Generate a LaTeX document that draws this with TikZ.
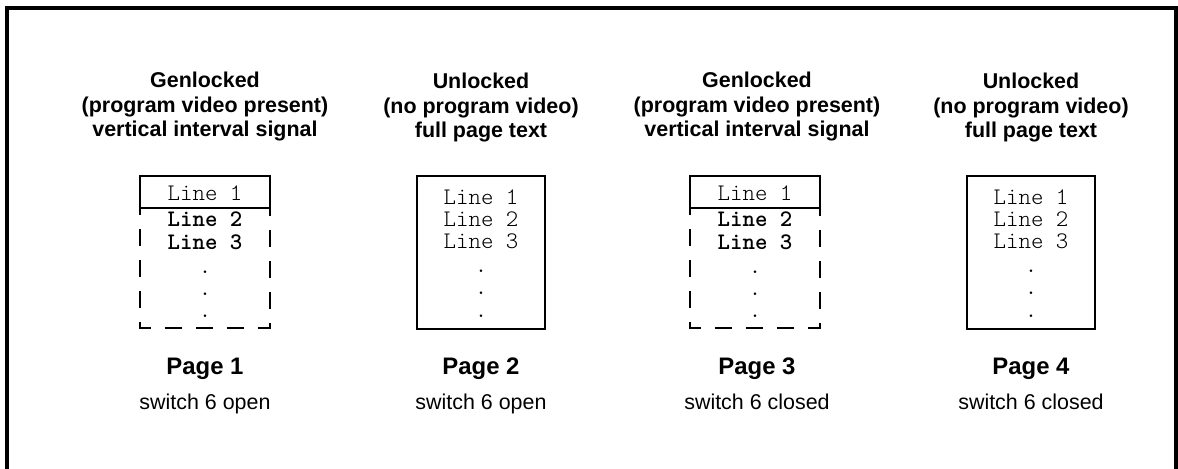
\documentclass[tikz,border=0pt]{standalone}
\usepackage{fontspec}
\setmainfont{Liberation Sans}
\setmonofont{Latin Modern Mono Light}
\usetikzlibrary{positioning}
\tikzset{
    heading/.style={align=center,inner sep=0pt,anchor=base,font=\bfseries\fontsize{12.2}{14.2}\selectfont},
    pagename/.style={inner sep=0pt,anchor=base,font=\bfseries\fontsize{13.6}{16}\selectfont},
    switchname/.style={inner sep=0pt,anchor=base,font=\fontsize{12.2}{14}\selectfont},
    textline/.style={inner sep=0pt,anchor=base,font=\ttfamily\fontsize{13.5}{14}\selectfont},
    boldline/.style={inner sep=0pt,anchor=base,font=\ttfamily\bfseries\fontsize{13.5}{14}\selectfont},
    pagebox/.style={draw=black,line width=1.3pt},
    vibox/.style={draw=black,line width=1.3pt,dash pattern=on 0.34cm off 0.28cm,dash phase=0.2cm}
}

\begin{document}
\begin{tikzpicture}[x=0.02cm,y=-0.02cm]
    \useasboundingbox (0,0) rectangle (1178,469);
    \draw[line width=2.2pt] (7,469) -- (7,8) -- (1176,8) -- (1176,469);

    % headings
    \node[heading] (H_1) at (205,137) {Genlocked\\(program video present)\\vertical interval signal};
    \node[heading] (H_2) at (481,138) {Unlocked\\(no program video)\\full page text};
    \node[heading] (H_3) at (757,137) {Genlocked\\(program video present)\\vertical interval signal};
    \node[heading] (H_4) at (1031,138) {Unlocked\\(no program video)\\full page text};

    % page 1
    \draw[pagebox] (140,176) rectangle (270,208);
    \draw[vibox] (140,208) -- (140,328) -- (270,328) -- (270,208);
    \node[textline] (L1_1) at (205,201) {Line 1};
    \node[boldline] (L1_2) at (205,227) {Line 2};
    \node[boldline] (L1_3) at (205,250) {Line 3};
    \node[textline] (D1_1) at (205,274) {.};
    \node[textline] (D1_2) at (205,296) {.};
    \node[textline] (D1_3) at (205,318) {.};

    % page 2
    \draw[pagebox] (417,176) rectangle (545,329);
    \node[textline] (L2_1) at (481,205) {Line 1};
    \node[textline] (L2_2) at (481,227) {Line 2};
    \node[textline] (L2_3) at (481,249) {Line 3};
    \node[textline] (D2_1) at (481,273) {.};
    \node[textline] (D2_2) at (481,295) {.};
    \node[textline] (D2_3) at (481,318) {.};

    % page 3
    \draw[pagebox] (690,176) rectangle (820,208);
    \draw[vibox] (690,208) -- (690,328) -- (820,328) -- (820,208);
    \node[textline] (L3_1) at (755,201) {Line 1};
    \node[boldline] (L3_2) at (755,227) {Line 2};
    \node[boldline] (L3_3) at (755,250) {Line 3};
    \node[textline] (D3_1) at (755,274) {.};
    \node[textline] (D3_2) at (755,296) {.};
    \node[textline] (D3_3) at (755,318) {.};

    % page 4
    \draw[pagebox] (967,176) rectangle (1095,329);
    \node[textline] (L4_1) at (1031,205) {Line 1};
    \node[textline] (L4_2) at (1031,227) {Line 2};
    \node[textline] (L4_3) at (1031,249) {Line 3};
    \node[textline] (D4_1) at (1031,273) {.};
    \node[textline] (D4_2) at (1031,295) {.};
    \node[textline] (D4_3) at (1031,318) {.};

    % labels
    \node[pagename] (P_1) at (205,375) {Page 1};
    \node[pagename] (P_2) at (481,375) {Page 2};
    \node[pagename] (P_3) at (757,375) {Page 3};
    \node[pagename] (P_4) at (1031,375) {Page 4};
    \node[switchname] (S_1) at (205,410) {switch 6 open};
    \node[switchname] (S_2) at (481,410) {switch 6 open};
    \node[switchname] (S_3) at (757,410) {switch 6 closed};
    \node[switchname] (S_4) at (1031,410) {switch 6 closed};
\end{tikzpicture}
\end{document}
